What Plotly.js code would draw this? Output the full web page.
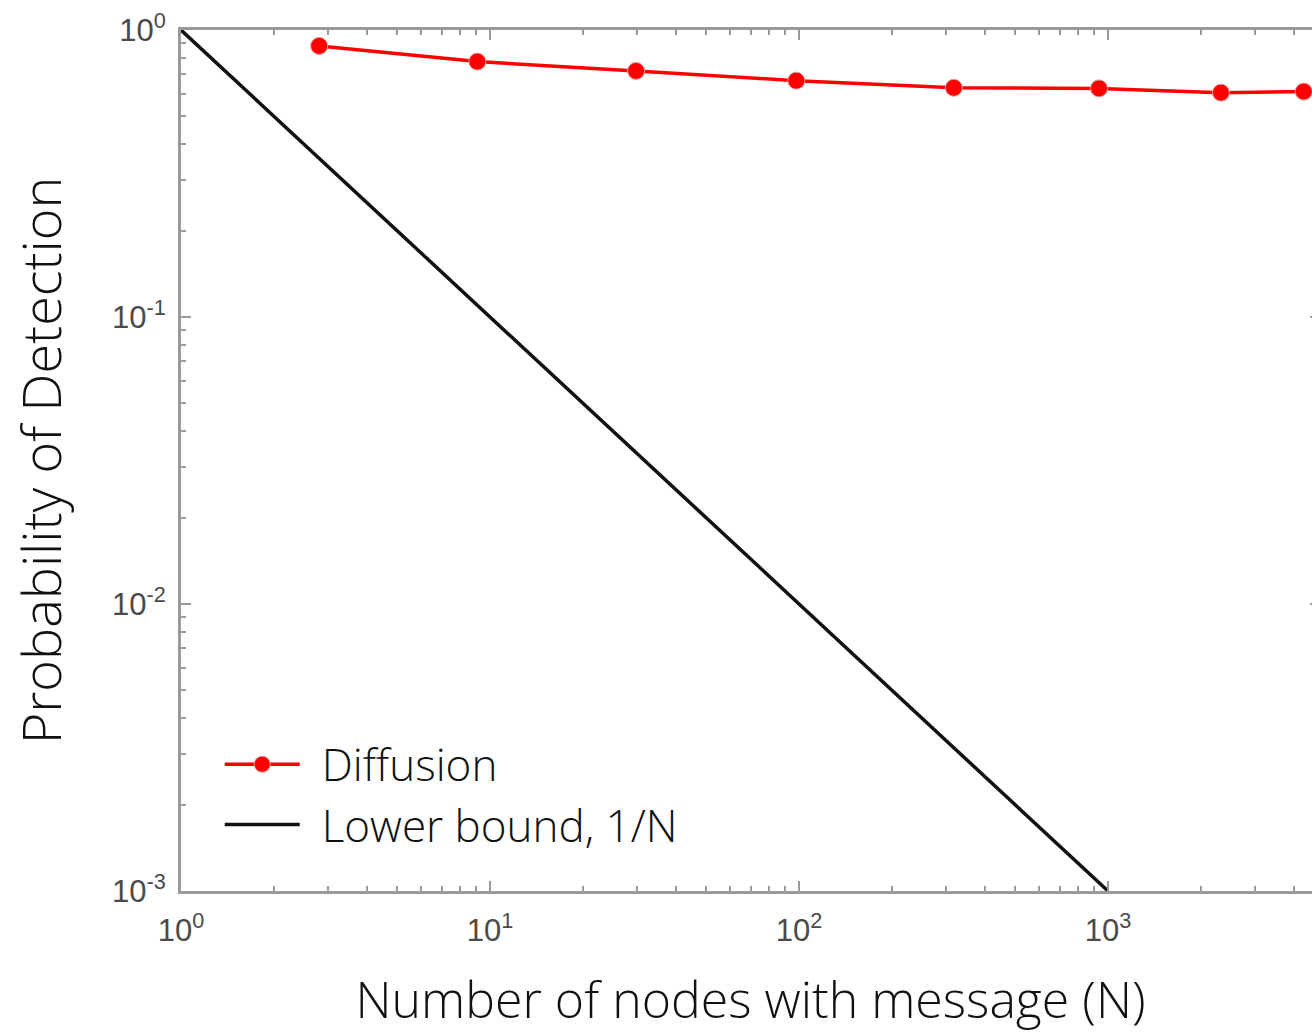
<!DOCTYPE html>
<html>
<head>
<meta charset="utf-8">
<script src="https://cdn.plot.ly/plotly-3.0.1.min.js"></script>
<style>
html,body{margin:0;padding:0;overflow:hidden;background:#fff;}
#chart{width:1340px;height:1033px;}
</style>
</head>
<body>
<div id="chart"></div>
<script>
// Data
const diffusionN = [2.8, 9.1, 29.7, 98, 317, 935, 2320, 4300];
const diffusionP = [0.88, 0.776, 0.72, 0.666, 0.629, 0.626, 0.605, 0.61];
const boundN = [1, 1000];
const boundP = [1, 0.001];

const xTickVals = [1, 10, 100, 1000];
const xTickText = ['10<sup>0</sup>', '10<sup>1</sup>', '10<sup>2</sup>', '10<sup>3</sup>'];
const yTickVals = [0.001, 0.01, 0.1, 1];
const yTickText = ['10<sup>-3</sup>', '10<sup>-2</sup>', '10<sup>-1</sup>', '10<sup>0</sup>'];

function minorVals(lo, hi) {
  const out = [];
  for (let e = lo; e < hi; e++) {
    for (let m = 2; m <= 9; m++) out.push(m * Math.pow(10, e));
  }
  return out;
}

const axisCommon = {
  type: 'log',
  showgrid: false,
  zeroline: false,
  showline: true,
  linecolor: '#9a9a9a',
  linewidth: 3,
  mirror: 'allticks',
  ticks: 'inside',
  ticklen: 10,
  tickwidth: 2,
  tickcolor: '#9a9a9a',
  tickmode: 'array',
  tickfont: {family: 'Liberation Sans, Arial, sans-serif', size: 31, color: '#4a4a4a'},
};

const titleFont = {family: 'Open Sans, Noto Sans, sans-serif', color: '#111111', weight: 300};

const traces = [
  {
    x: diffusionN, y: diffusionP, name: 'Diffusion',
    mode: 'lines+markers',
    line: {color: '#ff0000', width: 3.5},
    marker: {color: '#ff0000', size: 17, line: {color: '#d8a0a0', width: 1}},
  },
  {
    x: boundN, y: boundP, name: 'Lower bound, 1/N',
    mode: 'lines',
    line: {color: '#111111', width: 3.5},
  }
];

const layout = {
  width: 1340, height: 1033,
  margin: {l: 181, r: 20, t: 30, b: 142},
  paper_bgcolor: '#ffffff', plot_bgcolor: '#ffffff',
  showlegend: true,
  legend: {
    x: 0.034, y: 0.188, xanchor: 'left', yanchor: 'top',
    bgcolor: 'rgba(0,0,0,0)',
    font: Object.assign({}, titleFont, {size: 44}),
    itemwidth: 75,
    tracegroupgap: 0,
  },
  xaxis: Object.assign({}, axisCommon, {
    range: [0, 3.686],
    tickvals: xTickVals, ticktext: xTickText,
    ticklabelstandoff: 10,
    minor: {tickvals: minorVals(0, 4), ticks: 'inside', ticklen: 5, tickwidth: 2, tickcolor: '#9a9a9a', showgrid: false},
    title: {text: 'Number of nodes with message (N)', font: Object.assign({}, titleFont, {size: 50}), standoff: 38},
  }),
  yaxis: Object.assign({}, axisCommon, {
    range: [-3, 0],
    tickvals: yTickVals, ticktext: yTickText,
    ticklabelstandoff: 6,
    minor: {tickvals: minorVals(-3, 0), ticks: 'inside', ticklen: 5, tickwidth: 2, tickcolor: '#9a9a9a', showgrid: false},
    title: {text: 'Probability of Detection', font: Object.assign({}, titleFont, {size: 54}), standoff: 34},
  }),
};

Plotly.newPlot('chart', traces, layout, {displayModeBar: false, staticPlot: true}).then(function () {
  // widen the gap between legend symbols and legend text, as in the reference
  document.querySelectorAll('#chart .legend [clip-path]').forEach(function (el) {
    el.removeAttribute('clip-path');
  });
  document.querySelectorAll('#chart .legendtext').forEach(function (t) {
    t.setAttribute('x', parseFloat(t.getAttribute('x')) + 17);
    t.querySelectorAll('tspan[x]').forEach(function (s) {
      s.setAttribute('x', parseFloat(s.getAttribute('x')) + 17);
    });
  });
});
</script>
</body>
</html>
